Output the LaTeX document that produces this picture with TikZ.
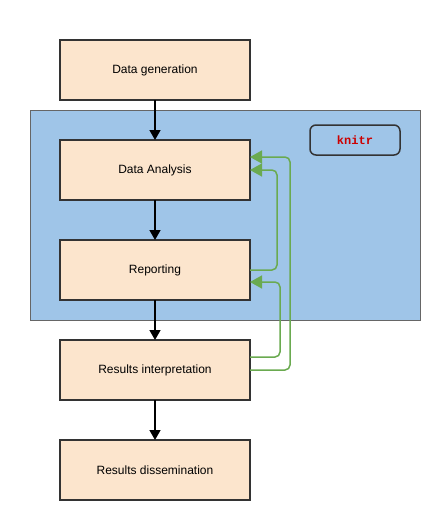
\documentclass[tikz,border=0pt]{standalone}
\usepackage{fontspec}
\setmainfont{Liberation Sans}
\newfontfamily\knitrfont{Liberation Mono}
\usetikzlibrary{positioning}
\usetikzlibrary{arrows.meta}
\definecolor{boxfill}{HTML}{FCE5CD}
\definecolor{boxline}{HTML}{333333}
\definecolor{areafill}{HTML}{9FC5E8}
\definecolor{arealine}{HTML}{666666}
\definecolor{loopgreen}{HTML}{6AAA50}
\definecolor{knitrred}{HTML}{CC0000}

\begin{document}
\begin{tikzpicture}[x=1pt, y=-1pt, node distance={40pt}, font=\fontsize{12}{14}\selectfont,
  main/.style = {draw=boxline, line width=1.5pt, fill=boxfill, minimum width=190pt, minimum height=60pt, inner sep=0pt, outer sep=0pt},
  flow/.style = {line width=1.5pt, -{Triangle[length=10pt, width=11pt]}},
  back/.style = {loopgreen, line width=1.5pt, rounded corners=5pt, -{Triangle[length=12pt, width=13pt]}}]
            \useasboundingbox (0,0) rectangle (440,520);
            \draw[arealine, fill=areafill] (30,110) rectangle (420,320);
            \node[draw=boxline, line width=1.5pt, rounded corners=6pt, minimum width=90pt, minimum height=30pt] (knitr) at (355,140) {\knitrfont\bfseries\color{knitrred}knitr};
            \node[main] (gen) at (155,70) {Data generation};
            \node[main] (ana) [below = of gen] {Data Analysis};
            \node[main] (rep) [below = of ana] {Reporting};
            \node[main] (int) [below = of rep] {Results interpretation};
            \node[main] (dis) [below = of int] {Results dissemination};
            \draw[flow] (gen) -- (ana);
            \draw[flow] (ana) -- (rep);
            \draw[flow] (rep) -- (int);
            \draw[flow] (int) -- (dis);
            \draw[back] (rep.east) -- ++(27,0) |- (ana.east);
            \draw[back] ([yshift=13pt]int.east) -- ++(30,0) |- ([yshift=-12pt]rep.east);
            \draw[back] (int.east) -- ++(40,0) |- ([yshift=13pt]ana.east);
        \end{tikzpicture}
\end{document}
